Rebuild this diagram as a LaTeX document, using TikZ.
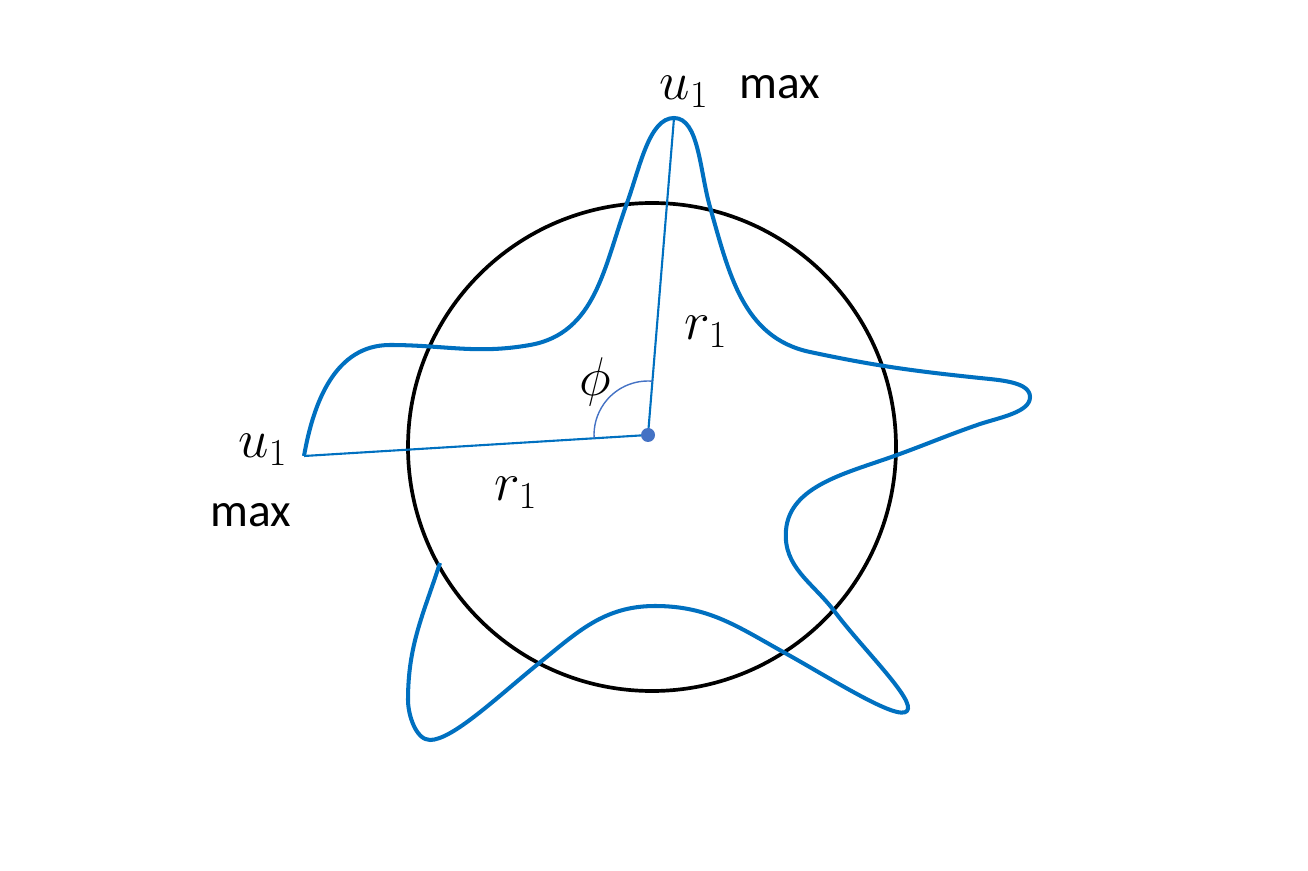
\documentclass[tikz,border=0pt]{standalone}
\usepackage{fix-cm}
\usepackage{fontspec}
\newfontfamily\calibri{Carlito}
\usetikzlibrary{positioning}
\definecolor{wave}{HTML}{0070C0}
\definecolor{dotblue}{HTML}{4472C4}
\begin{document}
\begin{tikzpicture}[
  wavy/.style={draw=wave, line width=2.3pt, line join=round},
  rad/.style={draw=wave, line width=1.2pt},
  mathlbl/.style={font=\fontsize{31}{36}\selectfont, inner sep=0pt},
  maxlbl/.style={font=\calibri\fontsize{27}{32}\selectfont, inner sep=0pt}]
\useasboundingbox (0,0) rectangle (26.16,17.4);
\coordinate (C) at (13.04,8.46);
\coordinate (O) at (12.96,8.70);
\coordinate (P1) at (13.48,15.04);
\coordinate (P2) at (6.08,8.28);
%============
\draw[line width=2.1pt] (C) circle (4.88);
\draw[wavy] (P2) to[out=80,in=180] (7.80,10.50)
  to[out=0,in=190] (10.60,10.50)
  to[out=10,in=250] (12.54,13.34)
  to[out=70,in=180,in distance=0.5cm] (P1)
  to[out=0,in=106,out distance=0.5cm] (14.20,13.26)
  to[out=-74,in=168] (16.20,10.36)
  to[out=-12,in=174] (19.60,9.84)
  to[out=-6,in=90,in distance=0.3cm] (20.60,9.46)
  to[out=-90,in=18,out distance=0.3cm] (19.60,8.92)
  to[out=199,in=20] (17.94,8.30)
  to[out=200,in=85,in distance=0.9cm] (15.72,6.80)
  to[out=-95,in=127] (16.70,5.16)
  to[out=-53,in=49,in distance=0.28cm] (18.14,3.18)
  to[out=-131,in=-29,out distance=0.28cm] (15.70,4.34)
  to[out=151,in=0] (13.10,5.28)
  to[out=180,in=39] (10.76,4.12)
  to[out=219,in=0,in distance=0.45cm] (8.60,2.60)
  to[out=180,in=-90,out distance=0.28cm,in distance=0.3cm] (8.16,3.40)
  to[out=90,in=252] (8.80,6.14);
%==========
\draw[rad] (O) -- (P1);
\draw[rad] (O) -- (P2);
\draw[dotblue, line width=0.8pt] (O) ++(85.3:1.08) arc[start angle=85.3, end angle=183.5, radius=1.08];
\fill[dotblue] (O) circle (0.14);
%==========
\node[mathlbl] (uTop) at (13.68,15.56) {$u_1$};
\node[maxlbl] (maxTop) at (15.60,15.66) {max};
\node[mathlbl] (rTop) at (14.12,10.76) {$r_1$};
\node[mathlbl] (phi) at (11.90,9.76) {$\phi$};
\node[mathlbl] (uLeft) at (5.26,8.40) {$u_1$};
\node[maxlbl] (maxLeft) at (5.02,7.10) {max};
\node[mathlbl] (rLeft) at (10.32,7.54) {$r_1$};
\end{tikzpicture}
\end{document}
